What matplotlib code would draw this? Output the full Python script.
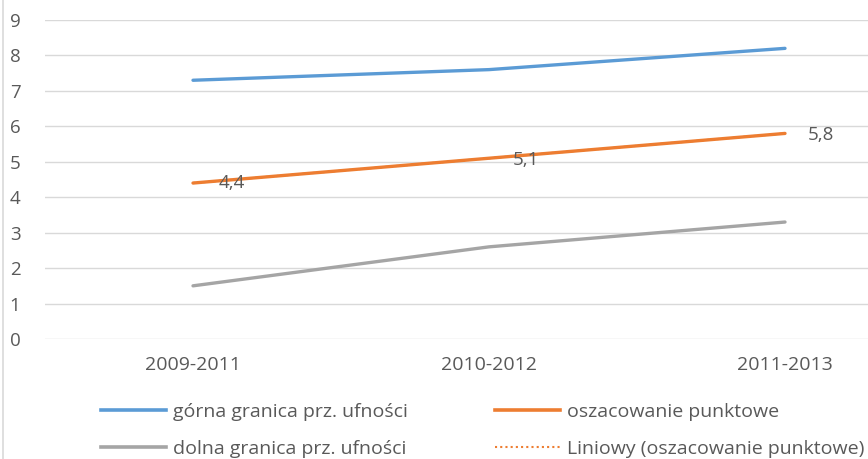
import numpy as np
import matplotlib.pyplot as plt
from matplotlib.lines import Line2D

plt.rcParams['font.family'] = ['Open Sans', 'DejaVu Sans']

categories = ['2009-2011', '2010-2012', '2011-2013']
upper = [7.3, 7.6, 8.2]
point = [4.4, 5.1, 5.8]
lower = [1.5, 2.6, 3.3]
point_labels = ['4,4', '5,1', '5,8']

c_blue = '#5b9bd5'
c_orange = '#ed7d31'
c_gray = '#a5a5a5'
c_text = '#595959'
c_grid = '#d9d9d9'
fs = 14

fig = plt.figure(figsize=(8.68, 4.59), dpi=100)
ax = fig.add_axes([45 / 868, (459 - 339) / 459, 888 / 868, (339 - 20) / 459])

x = np.arange(len(categories))
ax.plot(x, upper, color=c_blue, lw=2.4, solid_capstyle='round')
ax.plot(x, point, color=c_orange, lw=2.4, solid_capstyle='round')
ax.plot(x, lower, color=c_gray, lw=2.4, solid_capstyle='round')

# linear trend of the point estimate
k, b = np.polyfit(x, point, 1)
ax.plot(x, k * x + b, color=c_orange, lw=1.5, ls=(0, (1, 1.5)))

offsets = [(28, 0), (26.5, -1), (26, -1)]
for xi, yi, lab, off in zip(x, point, point_labels, offsets):
    ax.annotate(lab, (xi, yi), xytext=off, textcoords='offset points',
                ha='center', va='center', fontsize=13.5, color=c_text)

ax.set_xlim(-0.5, 2.5)
ax.set_ylim(0, 9)
ax.set_yticks(range(0, 10))
ax.set_xticks(x)
ax.set_xticklabels(categories)
ax.grid(axis='y', color=c_grid, lw=1)
ax.set_axisbelow(True)
for s in ax.spines.values():
    s.set_visible(False)
ax.tick_params(length=0, labelsize=fs, colors=c_text)
ax.tick_params(axis='y', labelsize=13.5)
ax.tick_params(axis='x', pad=12.5)
for lab in ax.get_yticklabels():
    lab.set_horizontalalignment('center')
ax.tick_params(axis='y', pad=21.5)

handles = [
    Line2D([], [], color=c_blue, lw=2.6),
    Line2D([], [], color=c_gray, lw=2.6),
    Line2D([], [], color=c_orange, lw=2.6),
    Line2D([], [], color=c_orange, lw=1.5, ls=(0, (1, 1.5))),
]
labels = ['górna granica prz. ufności', 'dolna granica prz. ufności',
          'oszacowanie punktowe', 'Liniowy (oszacowanie punktowe)']
leg = fig.legend(handles, labels, ncol=2, loc='lower left',
                 bbox_to_anchor=(83 / 868, -0.035), frameon=False,
                 fontsize=fs, handlelength=3.35, handletextpad=0.36,
                 columnspacing=4.5, labelspacing=0.97)
for t in leg.get_texts():
    t.set_color(c_text)

fig.add_artist(Line2D([2.5 / 868, 2.5 / 868], [0, 1], color=c_grid, lw=1.2))

fig.savefig('out.png', dpi=100, facecolor='white')
